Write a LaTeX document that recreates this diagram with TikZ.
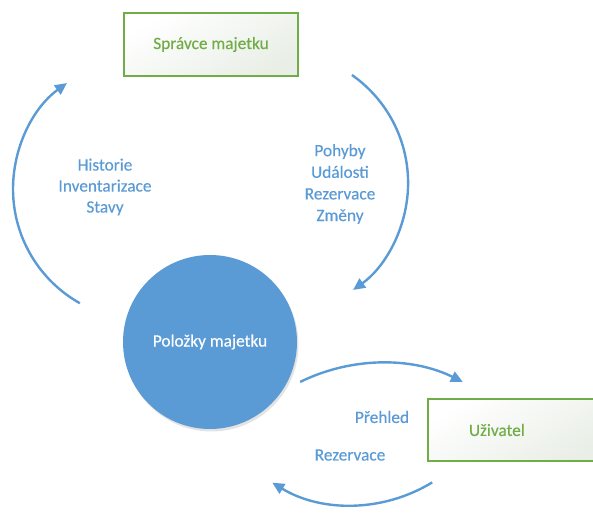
\documentclass[tikz,border=0pt]{standalone}
\usepackage{fontspec}
\setmainfont{Carlito}[FakeBold=0.35]
\usetikzlibrary{arrows.meta,shadows,calc}
\definecolor{officeblue}{HTML}{5B9BD5}
\definecolor{officegreen}{HTML}{70AD47}
\definecolor{boxshade}{HTML}{E9EEE6}
\tikzset{
  flow/.style={draw=officeblue, line width=2.4pt, -{Triangle[length=12pt,width=11pt]}},
  rolebox/.style={draw=officegreen, line width=1.6pt, minimum width=174pt, minimum height=63pt,
    top color=white, bottom color=boxshade, shading angle=30, text=officegreen, inner sep=0pt},
  label/.style={text=officeblue, align=center, font=\fontsize{17.3}{21}\selectfont},
}
\begin{document}
\begin{tikzpicture}[x=1pt,y=1pt]
  \useasboundingbox (0,0) rectangle (593,516);
  \clip (0,0) rectangle (593,516);

  % central item pool
  \node[circle, fill=officeblue, minimum size=174pt, inner sep=0pt, text=white,
        font=\fontsize{17.3}{21}\selectfont,
        drop shadow={opacity=0.22, shadow xshift=1.5pt, shadow yshift=-2.5pt}]
        (items) at (210,174) {Položky majetku};

  % roles
  \node[rolebox, font=\fontsize{17.3}{21}\selectfont] (admin) at (211,471.5) {Správce majetku};
  \node[rolebox, font=\fontsize{17.3}{21}\selectfont, minimum width=180pt, minimum height=62pt,
        text width=140pt, align=left] (user) at (518,86) {\hspace*{21pt}Uživatel};

  % labels
  \node[label] (histlbl) at (105,329) {Historie\\Inventarizace\\Stavy};
  \node[label, font=\fontsize{17.3}{21.6}\selectfont] (movlbl) at (340,332) {Pohyby\\Události\\Rezervace\\Změny};
  \node[label] (viewlbl) at (382,99) {Přehled};
  \node[label] (reslbl) at (350,61) {Rezervace};

  % arc end points
  \coordinate (lstart) at ($(144,327)+(240.7:131)$);
  \coordinate (rstart) at ($(276.4,333.1)+(55:131.7)$);
  \coordinate (ustart) at ($(381.5,-31.3)+(116.2:184.3)$);
  \coordinate (bstart) at ($(352,164.5)+(-58.5:153.5)$);

  % cycles
  \draw[flow] (lstart) arc[start angle=240.7, end angle=126, radius=131];
  \draw[flow] (rstart) arc[start angle=55, end angle=-54.4, radius=131.7];
  \draw[flow] (ustart) arc[start angle=116.2, end angle=63.8, radius=184.3];
  \draw[flow] (bstart) arc[start angle=-58.5, end angle=-121.3, radius=153.5];
\end{tikzpicture}
\end{document}
